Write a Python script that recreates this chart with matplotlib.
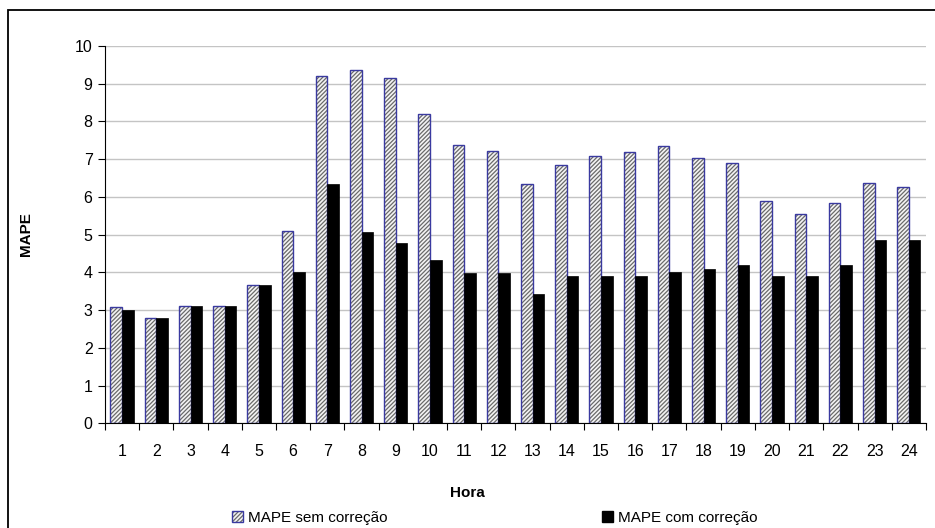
import numpy as np
import matplotlib.pyplot as plt
from matplotlib.patches import Patch, Rectangle
from matplotlib.legend_handler import HandlerTuple

plt.rcParams['font.family'] = ['Liberation Sans', 'DejaVu Sans']
plt.rcParams['hatch.linewidth'] = 0.9

horas = list(range(1, 25))
mape_sem = [3.07, 2.78, 3.11, 3.11, 3.67, 5.10, 9.21, 9.37, 9.14, 8.18, 7.36, 7.22,
            6.33, 6.85, 7.07, 7.18, 7.34, 7.04, 6.89, 5.88, 5.55, 5.84, 6.37, 6.25]
mape_com = [3.01, 2.78, 3.12, 3.12, 3.67, 4.01, 6.35, 5.08, 4.78, 4.33, 3.97, 3.97,
            3.42, 3.90, 3.90, 3.90, 4.01, 4.08, 4.20, 3.90, 3.90, 4.20, 4.86, 4.86]
yticks = list(range(0, 11))

fig = plt.figure(figsize=(9.35, 5.28), dpi=100)
ax = fig.add_axes([0.1123, 0.1983, 0.878, 0.715])

x = np.arange(len(horas))
w = 0.34
hatch_col = '#6a6a6a'
edge_blue = '#3a3aa0'
hatch = '////////'

# hatched bars: hatch first, then a blue outline on top
ax.bar(x - w / 2, mape_sem, w, color='#f4f4f4', hatch=hatch, edgecolor=hatch_col,
       linewidth=0, zorder=2)
ax.bar(x - w / 2, mape_sem, w, fill=False, edgecolor=edge_blue, linewidth=1.0, zorder=3)
ax.bar(x + w / 2, mape_com, w, color='black', edgecolor='black', linewidth=0.5, zorder=3)

ax.set_xlim(-0.5, len(horas) - 0.5)
ax.set_ylim(0, 10)
ax.set_yticks(yticks)
ax.set_xticks(x)
ax.set_xticklabels([str(h) for h in horas])
ax.set_xticks(np.arange(-0.5, len(horas), 1.0), minor=True)
ax.tick_params(axis='x', which='major', length=0, pad=15, labelsize=11.5)
ax.tick_params(axis='x', which='minor', length=5, width=0.8, direction='out')
ax.tick_params(axis='y', length=5, width=0.8, pad=4, labelsize=11.5)

ax.grid(axis='y', color='#c4c4c4', linewidth=1.0, zorder=0)
ax.set_axisbelow(True)
for s in ['top', 'right']:
    ax.spines[s].set_visible(False)
ax.spines['left'].set_linewidth(0.8)
ax.spines['bottom'].set_linewidth(0.8)

ax.set_ylabel('MAPE', fontsize=11, fontweight='bold', labelpad=30)
fig.text(0.5, 1 - 493 / 528, 'Hora', ha='center', va='center', fontsize=11,
         fontweight='bold')

# legend entries placed apart along the bottom
h_sem = (Patch(facecolor='#f4f4f4', hatch=hatch, edgecolor=hatch_col, linewidth=0),
         Patch(fill=False, edgecolor=edge_blue, linewidth=1.0))
h_com = Patch(facecolor='black', edgecolor='black')
common = dict(frameon=False, fontsize=11, handlelength=0.7, handleheight=0.7,
              handletextpad=0.35, borderpad=0, borderaxespad=0)
fig.legend([h_sem], ['MAPE sem correção'], loc='center left',
           bbox_to_anchor=(232 / 935, 1 - 518 / 528),
           handler_map={tuple: HandlerTuple(ndivide=1)}, **common)
fig.legend([h_com], ['MAPE com correção'], loc='center left',
           bbox_to_anchor=(602 / 935, 1 - 518 / 528), **common)

# outer chart frame
fig.patches.append(Rectangle((8 / 935, -0.2), 1.2, 1.2 - 10 / 528, transform=fig.transFigure,
                             fill=False, edgecolor='black', linewidth=1.3))

fig.savefig('out.png', dpi=100)
